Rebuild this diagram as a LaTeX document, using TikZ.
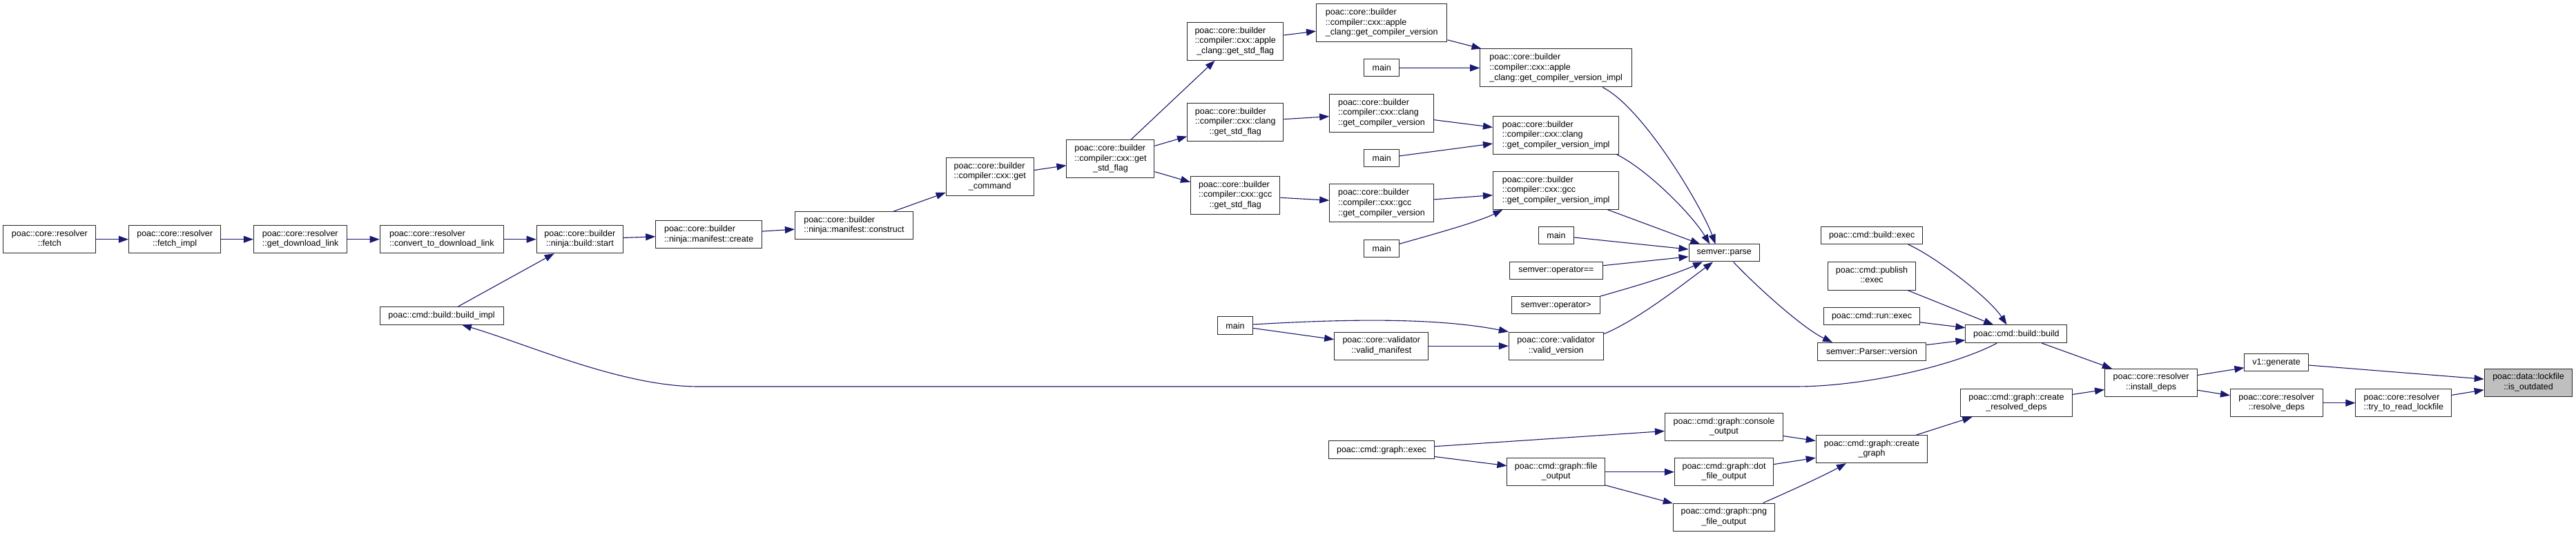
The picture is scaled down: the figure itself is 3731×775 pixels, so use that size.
\documentclass[tikz,border=0pt]{standalone}
\usepackage{fontspec}
\setmainfont{Liberation Sans}
\usetikzlibrary{arrows.meta}
\definecolor{edgeblue}{HTML}{191970}
\definecolor{hlgray}{HTML}{BFBFBF}
\newcommand\twol[2]{\begin{tabular}{@{}l@{}}#1\\\multicolumn{1}{@{}c@{}}{#2}\end{tabular}}
\begin{document}
\begin{tikzpicture}[x=1pt,y=1pt,
  box/.style={draw=black!85, line width=1pt, fill=white, inner sep=0pt, align=center,
    font=\fontsize{12.5}{14.6}\selectfont},
  hl/.style={box, fill=hlgray},
  edge/.style={draw=edgeblue, line width=1.1pt, -{Triangle[length=14pt,width=10pt]}}]
\fill[white] (0,0) rectangle (3731,-775);
\useasboundingbox (0,0) rectangle (3731,-775);

% left chain
\node[box, minimum width=134pt, minimum height=40pt] (fetch) at (71.8,-346.7) {\twol{poac::core::resolver}{::fetch}};
\node[box, minimum width=133.5pt, minimum height=40pt] (fimpl) at (253.2,-346.7) {\twol{poac::core::resolver}{::fetch\_impl}};
\node[box, minimum width=135.6pt, minimum height=40pt] (gdl) at (435.1,-346.7) {\twol{poac::core::resolver}{::get\_download\_link}};
\node[box, minimum width=179.2pt, minimum height=40pt] (conv) at (639.8,-346.7) {\twol{poac::core::resolver}{::convert\_to\_download\_link}};
\node[box, minimum width=125.3pt, minimum height=40pt] (bstart) at (839.8,-346.7) {\twol{poac::core::builder}{::ninja::build::start}};
\node[box, minimum width=153.9pt, minimum height=40pt] (mcreate) at (1026.7,-340) {\twol{poac::core::builder}{::ninja::manifest::create}};
\node[box, minimum width=171pt, minimum height=40pt] (mconstruct) at (1236.9,-326.7) {\twol{poac::core::builder}{::ninja::manifest::construct}};
\node[box, minimum width=178.8pt, minimum height=25.7pt] (bimpl) at (639.6,-457.2) {poac::cmd::build::build\_impl};

% compiler part
\node[box, minimum width=127pt, minimum height=54.7pt] (getcmd) at (1433.7,-256) {\twol{poac::core::builder\\::compiler::cxx::get}{\_command}};
\node[box, minimum width=127pt, minimum height=55pt] (gsf) at (1608.4,-230.2) {\twol{poac::core::builder\\::compiler::cxx::get}{\_std\_flag}};
\node[box, minimum width=139.2pt, minimum height=55pt] (agsf) at (1789.2,-59.8) {\twol{poac::core::builder\\::compiler::cxx::apple}{\_clang::get\_std\_flag}};
\node[box, minimum width=139.2pt, minimum height=54.7pt] (cgsf) at (1789.2,-177) {\twol{poac::core::builder\\::compiler::cxx::clang}{::get\_std\_flag}};
\node[box, minimum width=129.4pt, minimum height=54.7pt] (ggsf) at (1789.2,-282.7) {\twol{poac::core::builder\\::compiler::cxx::gcc}{::get\_std\_flag}};
\node[box, minimum width=189.4pt, minimum height=55pt] (agcv) at (2001.2,-33.2) {\twol{poac::core::builder\\::compiler::cxx::apple}{\_clang::get\_compiler\_version}};
\node[box, minimum width=220pt, minimum height=55pt] (aimpl) at (2253.7,-98.5) {\twol{poac::core::builder\\::compiler::cxx::apple}{\_clang::get\_compiler\_version\_impl}};
\node[box, minimum width=50.6pt, minimum height=25.3pt] (mainA) at (2001.2,-98.3) {main};
\node[box, minimum width=150.6pt, minimum height=54.7pt] (cgcv) at (2001,-164) {\twol{poac::core::builder\\::compiler::cxx::clang}{::get\_compiler\_version}};
\node[box, minimum width=182.5pt, minimum height=54.7pt] (cimpl) at (2253.7,-196) {\twol{poac::core::builder\\::compiler::cxx::clang}{::get\_compiler\_version\_impl}};
\node[box, minimum width=50.6pt, minimum height=25.3pt] (mainB) at (2001.2,-229.3) {main};
\node[box, minimum width=150.6pt, minimum height=55pt] (ggcv) at (2001,-294.5) {\twol{poac::core::builder\\::compiler::cxx::gcc}{::get\_compiler\_version}};
\node[box, minimum width=182.5pt, minimum height=54.7pt] (gimpl) at (2253.7,-276) {\twol{poac::core::builder\\::compiler::cxx::gcc}{::get\_compiler\_version\_impl}};
\node[box, minimum width=50.6pt, minimum height=25pt] (mainC) at (2001.2,-359.8) {main};
\node[box, minimum width=50.6pt, minimum height=25pt] (mainD) at (2253.9,-341.2) {main};

% semver / validator
\node[box, minimum width=102.5pt, minimum height=25pt] (parse) at (2497.3,-366.5) {semver::parse};
\node[box, minimum width=134.7pt, minimum height=25.3pt] (opeq) at (2253.9,-391.7) {semver::operator==};
\node[box, minimum width=127.3pt, minimum height=25.3pt] (opgt) at (2253.5,-442.3) {semver::operator>};
\node[box, minimum width=136.3pt, minimum height=40.3pt] (vman) at (2000.8,-501.2) {\twol{poac::core::validator}{::valid\_manifest}};
\node[box, minimum width=136.7pt, minimum height=40.3pt] (vver) at (2253.7,-501.2) {\twol{poac::core::validator}{::valid\_version}};
\node[box, minimum width=51.4pt, minimum height=25.7pt] (mainE) at (1789,-471.8) {main};

% graph commands
\node[box, minimum width=152.2pt, minimum height=25.7pt] (gexec) at (2001,-651.8) {poac::cmd::graph::exec};
\node[box, minimum width=141.6pt, minimum height=40pt] (fout) at (2253.7,-683.7) {\twol{poac::cmd::graph::file}{\_output}};
\node[box, minimum width=171pt, minimum height=40pt] (console) at (2496.9,-618.7) {\twol{poac::cmd::graph::console}{\_output}};
\node[box, minimum width=143.3pt, minimum height=40pt] (dotf) at (2497,-683.7) {\twol{poac::cmd::graph::dot}{\_file\_output}};
\node[box, minimum width=147pt, minimum height=40pt] (pngf) at (2496.8,-749) {\twol{poac::cmd::graph::png}{\_file\_output}};
\node[box, minimum width=161.6pt, minimum height=40pt] (cgraph) at (2711,-650.7) {\twol{poac::cmd::graph::create}{\_graph}};
\node[box, minimum width=161.6pt, minimum height=40pt] (crd) at (2920.4,-583.7) {\twol{poac::cmd::graph::create}{\_resolved\_deps}};

% build commands
\node[box, minimum width=146.5pt, minimum height=25.4pt] (bexec) at (2711.2,-341) {poac::cmd::build::exec};
\node[box, minimum width=127.4pt, minimum height=40.7pt] (pexec) at (2711,-399.7) {\twol{poac::cmd::publish}{::exec}};
\node[box, minimum width=138.8pt, minimum height=25.3pt] (rexec) at (2711,-458.3) {poac::cmd::run::exec};
\node[box, minimum width=157.6pt, minimum height=25.7pt] (pver) at (2711,-509.2) {semver::Parser::version};
\node[box, minimum width=147pt, minimum height=25.7pt] (bbuild) at (2920.4,-483.8) {poac::cmd::build::build};

% right part
\node[box, minimum width=134pt, minimum height=40pt] (install) at (3115.5,-554.3) {\twol{poac::core::resolver}{::install\_deps}};
\node[box, minimum width=92.2pt, minimum height=25.3pt] (v1gen) at (3297,-525.3) {v1::generate};
\node[box, minimum width=133.6pt, minimum height=40pt] (resolve) at (3297.2,-583.7) {\twol{poac::core::resolver}{::resolve\_deps}};
\node[box, minimum width=138.8pt, minimum height=40pt] (tryread) at (3481.3,-583.7) {\twol{poac::core::resolver}{::try\_to\_read\_lockfile}};
\node[hl, minimum width=127.6pt, minimum height=40pt] (outdated) at (3662,-554.3) {\twol{poac::data::lockfile}{::is\_outdated}};

% straight edges
\draw[edge] (fetch) -- (fimpl);
\draw[edge] (fimpl) -- (gdl);
\draw[edge] (gdl) -- (conv);
\draw[edge] (conv) -- (bstart);
\draw[edge] (bimpl) -- (bstart);
\draw[edge] (bstart) -- (mcreate);
\draw[edge] (mcreate) -- (mconstruct);
\draw[edge] (mconstruct) -- (getcmd);
\draw[edge] (getcmd) -- (gsf);
\draw[edge] (gsf) -- (agsf);
\draw[edge] (gsf) -- (cgsf);
\draw[edge] (gsf) -- (ggsf);
\draw[edge] (agsf) -- (agcv);
\draw[edge] (cgsf) -- (cgcv);
\draw[edge] (ggsf) -- (ggcv);
\draw[edge] (agcv) -- (aimpl);
\draw[edge] (mainA) -- (aimpl);
\draw[edge] (cgcv) -- (cimpl);
\draw[edge] (mainB) -- (cimpl);
\draw[edge] (ggcv) -- (gimpl);
\draw[edge] (gimpl) -- (parse);
\draw[edge] (mainD) -- (parse);
\draw[edge] (opeq) -- (parse);
\draw[edge] (mainE) -- (vman);
\draw[edge] (vman) -- (vver);
\draw[edge] (pexec) -- (bbuild);
\draw[edge] (rexec) -- (bbuild);
\draw[edge] (pver) -- (bbuild);
\draw[edge] (bbuild) -- (install);
\draw[edge] (console) -- (cgraph);
\draw[edge] (dotf) -- (cgraph);
\draw[edge] (cgraph) -- (crd);
\draw[edge] (crd) -- (install);
\draw[edge] (gexec) -- (console);
\draw[edge] (gexec) -- (fout);
\draw[edge] (fout) -- (dotf);
\draw[edge] (fout) -- (pngf);
\draw[edge] (install) -- (v1gen);
\draw[edge] (install) -- (resolve);
\draw[edge] (resolve) -- (tryread);
\draw[edge] (v1gen) -- (outdated);
\draw[edge] (tryread) -- (outdated);

% curved edges
\draw[edge] ([yshift=6.5pt]mainC.east) .. controls (2070,-341) and (2140,-322) .. ([xshift=-77.4pt]gimpl.south);
\draw[edge] ([xshift=67.4pt]aimpl.south) .. controls (2380,-156) and (2465,-300) .. ([xshift=-12.8pt]parse.north);
\draw[edge] ([xshift=87.9pt]cimpl.south) .. controls (2385,-245) and (2450,-310) .. ([xshift=-21pt]parse.north);
\draw[edge] (opgt.north east) .. controls (2350,-420) and (2420,-400) .. ([xshift=-31.3pt]parse.south);
\draw[edge] ([yshift=-3.3pt]vver.north east) .. controls (2370,-465) and (2440,-410) .. ([xshift=-16.3pt]parse.south);
\draw[edge] ([yshift=1.8pt]mainE.east) .. controls (1950,-462) and (2080,-460) .. (vver.north west);
\draw[edge] ([xshift=13.3pt]parse.south) .. controls (2540,-411) and (2610,-475) .. ([xshift=-57pt]pver.north);
\draw[edge] ([xshift=52.5pt]bexec.south) .. controls (2800,-370) and (2880,-430) .. ([xshift=-13.9pt]bbuild.north);
\draw[edge] ([xshift=56.7pt]pngf.north) .. controls (2580,-717) and (2640,-690) .. ([xshift=-37.1pt]cgraph.south);
\coordinate (k1) at (2600,-560);
\coordinate (k2) at (1012,-560);
\draw[edge] ([xshift=-28.2pt]bbuild.south) .. controls (2830,-530) and (2700,-560) .. (k1) -- (k2) .. controls (900,-560) and (764,-498.5) .. ([xshift=29.4pt]bimpl.south);
\end{tikzpicture}
\end{document}
